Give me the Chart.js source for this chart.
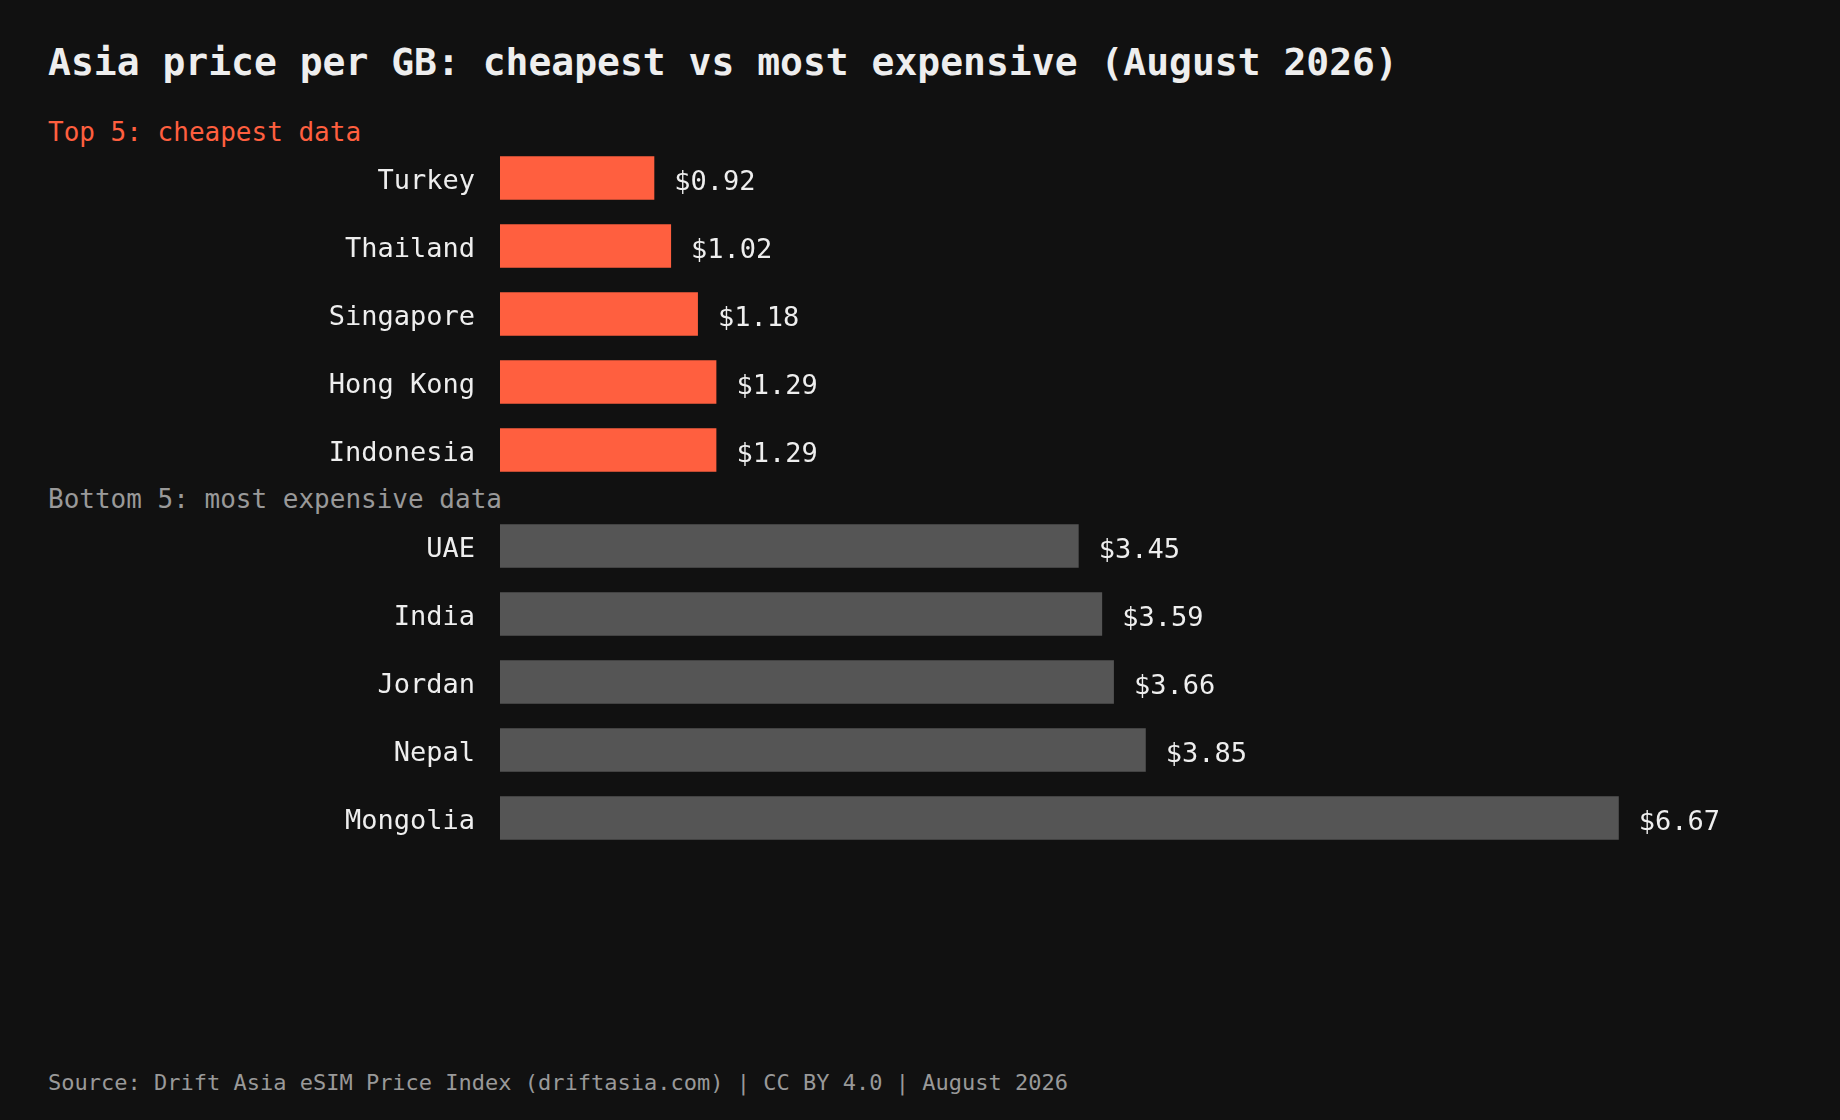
<!DOCTYPE html>
<html>
<head>
<meta charset="utf-8">
<script src="https://cdn.jsdelivr.net/npm/chart.js@4"></script>
<style>
  html, body { margin: 0; padding: 0; background: #111111; }
  body { width: 1840px; height: 1120px; position: relative; overflow: hidden;
         font-family: "DejaVu Sans Mono", monospace; }
  .txt { position: absolute; left: 48px; white-space: nowrap; line-height: 1; }
  #title { top: 43px; font-size: 38px; font-weight: bold; color: #eeeeee; }
  #topHead { top: 119px; font-size: 26px; color: #ff5f3f; }
  #bottomHead { top: 486px; font-size: 26px; color: #999999; }
  #footer { top: 1072px; font-size: 22px; color: #999999; }
  canvas { position: absolute; left: 0; }
  #topChart { top: 144px; }
  #bottomChart { top: 512px; }
</style>
</head>
<body>
<div class="txt" id="title">Asia price per GB: cheapest vs most expensive (August 2026)</div>
<div class="txt" id="topHead">Top 5: cheapest data</div>
<div class="txt" id="bottomHead">Bottom 5: most expensive data</div>
<canvas id="topChart" width="1840" height="340"></canvas>
<canvas id="bottomChart" width="1840" height="340"></canvas>
<div class="txt" id="footer">Source: Drift Asia eSIM Price Index (driftasia.com) | CC BY 4.0 | August 2026</div>

<script>
// data (USD per GB)
const topCountries = ["Turkey", "Thailand", "Singapore", "Hong Kong", "Indonesia"];
const topPrices = [0.92, 1.02, 1.18, 1.29, 1.29];

const bottomCountries = ["UAE", "India", "Jordan", "Nepal", "Mongolia"];
const bottomPrices = [3.45, 3.59, 3.66, 3.85, 6.67];

const FONT = "DejaVu Sans Mono";

// writes "$x.xx" just past the end of each bar
const valueLabels = {
  id: "valueLabels",
  afterDatasetsDraw(chart) {
    const ctx = chart.ctx;
    const ds = chart.data.datasets[0];
    ctx.save();
    ctx.font = "27px '" + FONT + "'";
    ctx.fillStyle = "#eeeeee";
    ctx.textAlign = "left";
    ctx.textBaseline = "middle";
    chart.getDatasetMeta(0).data.forEach((bar, i) => {
      ctx.fillText("$" + ds.data[i].toFixed(2), bar.x + 20, bar.y + 5);
    });
    ctx.restore();
  }
};

function makeChart(id, labels, values, color) {
  return new Chart(document.getElementById(id), {
    type: "bar",
    data: {
      labels: labels,
      datasets: [{
        data: values,
        backgroundColor: color,
        borderWidth: 0,
        barPercentage: 0.8,
        categoryPercentage: 0.8
      }]
    },
    options: {
      indexAxis: "y",
      responsive: false,
      animation: false,
      devicePixelRatio: 1,
      layout: { padding: { left: 0, right: 82, top: 0, bottom: 0 } },
      plugins: {
        legend: { display: false },
        tooltip: { enabled: false }
      },
      scales: {
        x: {
          display: false,
          min: 0,
          max: 7.5
        },
        y: {
          // fixed label column, and no extra room above/below the bars
          afterFit: s => {
            s.width = 500;
            s.paddingTop = 0;
            s.paddingBottom = 0;
          },
          grid: { display: false, drawTicks: false },
          border: { display: false },
          ticks: {
            color: "#eeeeee",
            padding: 25,
            labelOffset: 4,
            font: { family: FONT, size: 27 }
          }
        }
      }
    },
    plugins: [valueLabels]
  });
}

makeChart("topChart", topCountries, topPrices, "#ff5f3f");
makeChart("bottomChart", bottomCountries, bottomPrices, "#555555");
</script>
</body>
</html>
